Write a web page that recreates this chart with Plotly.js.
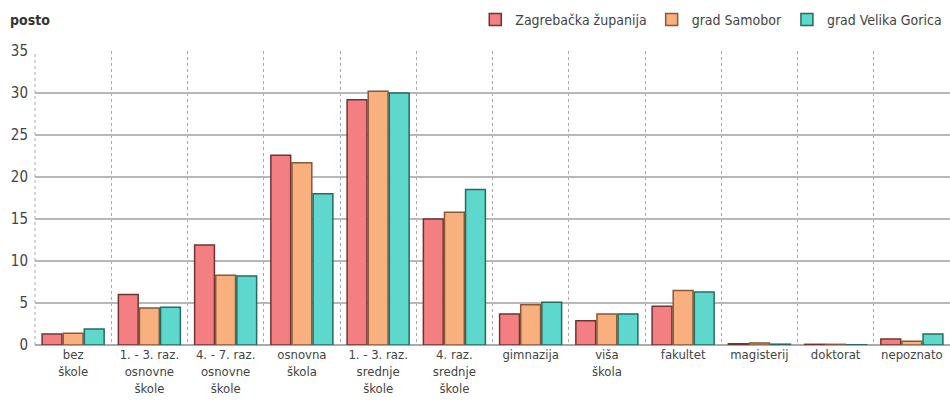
<!DOCTYPE html>
<html>
<head>
<meta charset="utf-8">
<script src="https://cdn.plot.ly/plotly-3.0.1.min.js"></script>
<style>html,body{margin:0;padding:0;background:#fff;}#chart{width:950px;height:408px;}</style>
</head>
<body>
<div id="chart"></div>
<script>
const categories = [
  "bez<br>škole",
  "1. - 3. raz.<br>osnovne<br>škole",
  "4. - 7. raz.<br>osnovne<br>škole",
  "osnovna<br>škola",
  "1. - 3. raz.<br>srednje<br>škole",
  "4. raz.<br>srednje<br>škole",
  "gimnazija",
  "viša<br>škola",
  "fakultet",
  "magisterij",
  "doktorat",
  "nepoznato"
];
const seriesNames = ["Zagrebačka županija", "grad Samobor", "grad Velika Gorica"];
const zagrebacka = [1.3, 6.0, 11.9, 22.6, 29.2, 15.0, 3.7, 2.9, 4.6, 0.15, 0.08, 0.7];
const samobor    = [1.4, 4.4, 8.3, 21.7, 30.2, 15.8, 4.8, 3.7, 6.5, 0.25, 0.08, 0.45];
const velikaGorica = [1.9, 4.5, 8.2, 18.0, 30.0, 18.5, 5.1, 3.7, 6.3, 0.1, 0.03, 1.3];
const yTicks = [0, 5, 10, 15, 20, 25, 30, 35];

const fills = ["#f47f82", "#f8b07e", "#5ed8cc"];
const edges = ["#6e3434", "#87583a", "#276a62"];
const values = [zagrebacka, samobor, velikaGorica];

const traces = values.map((v, i) => ({
  type: "bar",
  name: seriesNames[i],
  x: categories,
  y: v,
  marker: {color: fills[i], line: {color: edges[i], width: 1.5}}
}));

const font = "'DejaVu Sans Condensed', 'Liberation Sans', sans-serif";

const layout = {
  width: 950, height: 408,
  margin: {l: 35, r: 0, t: 51, b: 63, autoexpand: false},
  paper_bgcolor: "#ffffff",
  plot_bgcolor: "#ffffff",
  barmode: "group",
  bargap: 0.17,
  bargroupgap: 0.06,
  font: {family: font, color: "#444", size: 13},
  showlegend: true,
  legend: {
    orientation: "h", x: 0.997, xanchor: "right", y: 1.106, yanchor: "middle",
    font: {family: font, size: 14, color: "#444"},
    traceorder: "normal", itemwidth: 30
  },
  xaxis: {
    type: "category",
    tickson: "boundaries",
    showgrid: true, gridcolor: "#aaaaaa", griddash: "dot", gridwidth: 1,
    ticks: "", showline: false, zeroline: false,
    tickfont: {family: font, size: 13, color: "#444"},
    automargin: false
  },
  yaxis: {
    range: [0, 35], tickvals: yTicks, ticktext: yTicks.map(String),
    showgrid: true, gridcolor: "#b8b8b8", gridwidth: 1.5,
    zeroline: true, zerolinecolor: "#aaaaaa", zerolinewidth: 1.5,
    ticks: "", ticklabelstandoff: 6,
    tickfont: {family: font, size: 15, color: "#444"},
    automargin: false
  },
  shapes: [{
    type: "line", xref: "paper", yref: "paper", x0: 0, x1: 0, y0: 0, y1: 1,
    line: {color: "#aaaaaa", width: 1, dash: "dot"}
  }],
  annotations: [{
    text: "<b>posto</b>", xref: "paper", yref: "paper", x: -0.03, y: 1.106,
    xanchor: "left", yanchor: "middle", showarrow: false,
    font: {family: font, size: 14, color: "#333"}
  }]
};

Plotly.newPlot("chart", traces, layout, {displayModeBar: false, staticPlot: true});
</script>
</body>
</html>
